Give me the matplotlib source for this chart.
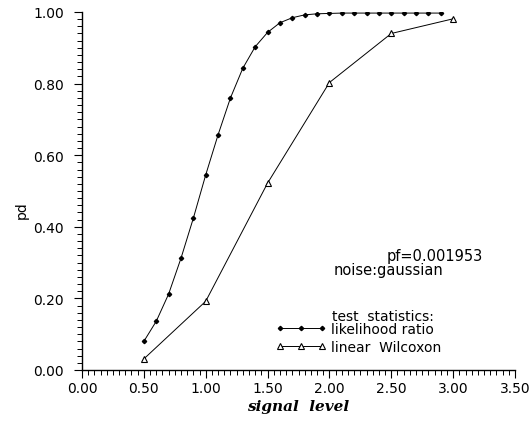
import matplotlib
matplotlib.use("Agg")
import matplotlib.pyplot as plt
from matplotlib.ticker import MultipleLocator, FormatStrFormatter

lr_x = [0.5, 0.6, 0.7, 0.8, 0.9, 1.0, 1.1, 1.2, 1.3, 1.4, 1.5, 1.6, 1.7, 1.8,
        1.9, 2.0, 2.1, 2.2, 2.3, 2.4, 2.5, 2.6, 2.7, 2.8, 2.9]
lr_y = [0.080, 0.136, 0.212, 0.312, 0.424, 0.545, 0.657, 0.760, 0.843, 0.903,
        0.943, 0.970, 0.984, 0.992, 0.995, 0.996, 0.997, 0.997, 0.997, 0.997,
        0.997, 0.997, 0.997, 0.997, 0.997]
wx_x = [0.5, 1.0, 1.5, 2.0, 2.5, 3.0]
wx_y = [0.031, 0.192, 0.522, 0.803, 0.940, 0.981]

W, H = 530, 427
fig = plt.figure(figsize=(W / 100, H / 100), dpi=100)
ax = fig.add_axes([82 / W, 1 - 371 / H, (515 - 82) / W, (371 - 13) / H])

ax.plot(lr_x, lr_y, color="black", lw=0.7, marker="D", ms=2.2,
        mfc="black", mec="black", label="likelihood ratio")
ax.plot(wx_x, wx_y, color="black", lw=0.7, marker="^", ms=4,
        mfc="white", mec="black", mew=0.8, label="linear  Wilcoxon")

ax.set_xlim(0, 3.5)
ax.set_ylim(0, 1.0)
ax.spines["top"].set_visible(False)
ax.spines["right"].set_visible(False)
ax.spines["left"].set_linewidth(1.0)
ax.spines["bottom"].set_linewidth(1.0)

ax.xaxis.set_major_locator(MultipleLocator(0.5))
ax.xaxis.set_minor_locator(MultipleLocator(0.05))
ax.yaxis.set_major_locator(MultipleLocator(0.2))
ax.yaxis.set_minor_locator(MultipleLocator(0.02))
ax.xaxis.set_major_formatter(FormatStrFormatter("%.2f"))
ax.yaxis.set_major_formatter(FormatStrFormatter("%.2f"))
ax.tick_params(which="major", direction="out", length=6, width=0.8,
               labelsize=10, pad=2, colors="black")
ax.tick_params(which="minor", direction="out", length=3.5, width=0.7)
ax.tick_params(axis="y", which="major", pad=7)

fig.text(22 / W, 1 - 210 / H, "pd", rotation=90, ha="center", va="center", fontsize=10)
fig.text(298 / W, 1 - 407 / H, "signal  level", ha="center", va="center",
         fontsize=11, family="DejaVu Serif", style="italic", weight="bold")

fig.text(387 / W, 1 - 256 / H, "pf=0.001953", ha="left", va="center", fontsize=10.5)
fig.text(334 / W, 1 - 270 / H, "noise:gaussian", ha="left", va="center", fontsize=10.5)
fig.text(332 / W, 1 - 317 / H, "test  statistics:", ha="left", va="center", fontsize=10)

leg = ax.legend(loc="upper left", bbox_to_anchor=(276 / W, 1 - 323 / H),
                bbox_transform=fig.transFigure, frameon=False, fontsize=10,
                borderpad=0, borderaxespad=0, handlelength=3.6, handletextpad=0.35,
                labelspacing=0.3, numpoints=3)

fig.savefig("out.png", dpi=100)
